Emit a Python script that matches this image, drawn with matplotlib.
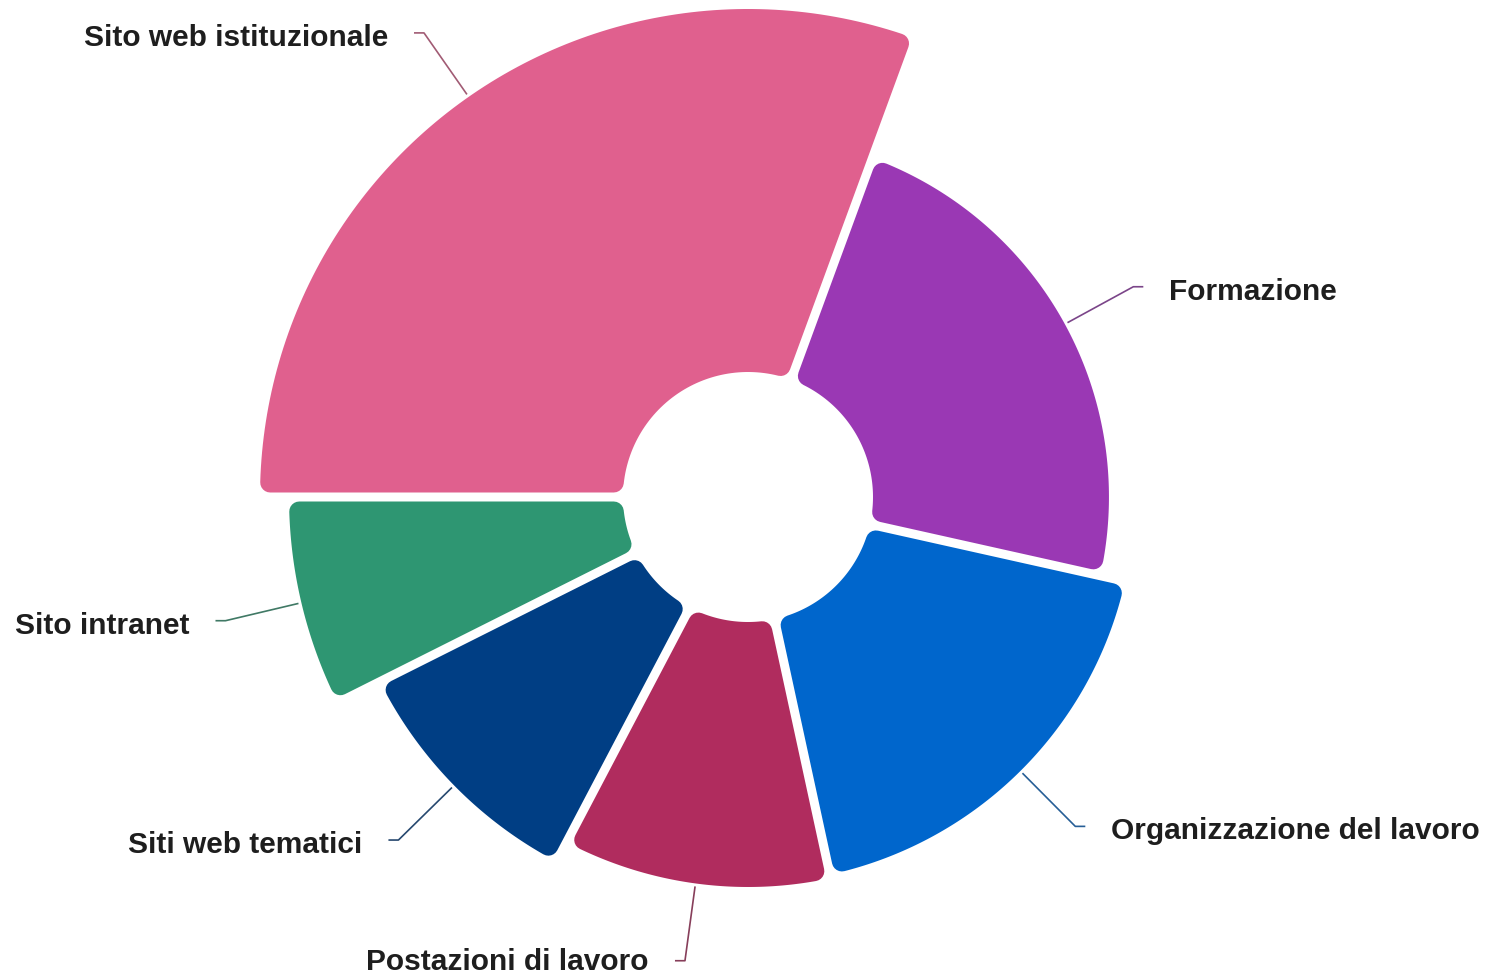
import numpy as np
import matplotlib
matplotlib.use('Agg')
import matplotlib.pyplot as plt
from matplotlib.patches import Polygon
from matplotlib.colors import to_rgb

# data
categories = ['Sito web istituzionale', 'Formazione', 'Organizzazione del lavoro',
              'Postazioni di lavoro', 'Siti web tematici', 'Sito intranet']
shares = [30.6, 22.9, 18.1, 11.1, 9.9, 7.4]          # angle of each slice (%)
rose_values = [100, 65, 72, 73, 79, 92]              # radius of each slice
colors = ['#E0608E', '#9A38B4', '#0066CC', '#B02C5E', '#003E84', '#2E9672']

W, H = 1494, 976
DPI = 100
px2pt = 72.0 / DPI

cx, cy = 748, 497          # centre of the rose
r_in, r_max = 125, 488     # hole radius and largest outer radius
gap = 9                    # white gap between slices
rnd = 10                   # corner rounding
start = 270                # degrees clockwise from 12 o'clock

fig = plt.figure(figsize=(W / DPI, H / DPI), dpi=DPI)
ax = fig.add_axes([0, 0, 1, 1])
ax.set_xlim(0, W)
ax.set_ylim(H, 0)
ax.set_aspect('equal')
ax.axis('off')


def pt(theta, r):
    return cx + r * np.sin(theta), cy - r * np.cos(theta)


total = float(sum(shares))
t = np.radians(start)
s = gap / 2.0 + rnd
for name, share, val, col in zip(categories, shares, rose_values, colors):
    span = np.radians(360.0 * share / total)
    t1, t2 = t, t + span
    t = t2
    r_out = r_in + (r_max - r_in) * val / max(rose_values)

    ro = r_out - rnd
    ri = r_in + rnd
    a_out = np.linspace(t1 + np.arcsin(s / ro), t2 - np.arcsin(s / ro), 120)
    a_in = np.linspace(t2 - np.arcsin(s / ri), t1 + np.arcsin(s / ri), 60)
    pts = [pt(a, ro) for a in a_out] + [pt(a, ri) for a in a_in]
    ax.add_patch(Polygon(pts, closed=True, fc=col, ec=col,
                         lw=2 * rnd * px2pt, joinstyle='round'))

    # leader line and label
    mid = (t1 + t2) / 2.0
    x0, y0 = pt(mid, r_out + 3)
    x1, y1 = pt(mid, r_out + 78)
    side = 1 if np.sin(mid) > 0 else -1
    x2 = x1 + side * 10
    line_col = 0.55 * np.array(to_rgb(col)) + 0.45 * np.array(to_rgb('#555555'))
    ax.plot([x0, x1, x2], [y0, y1, y1], color=line_col, lw=1.2,
            solid_capstyle='butt')
    ly = min(y1 + 5, H - 14)
    ax.text(x2 + side * 26, ly, name, ha='left' if side > 0 else 'right',
            va='center', fontsize=21.5, fontweight='bold',
            family='Liberation Sans', color='#1e1e1e')

fig.savefig('out.png', dpi=DPI, facecolor='white')
